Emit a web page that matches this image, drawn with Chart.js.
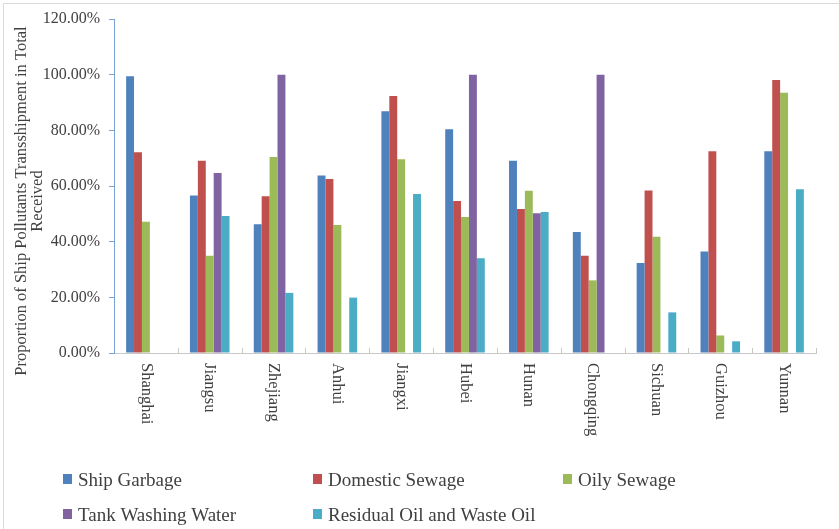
<!DOCTYPE html>
<html>
<head>
<meta charset="utf-8">
<script src="https://cdn.jsdelivr.net/npm/chart.js@4/dist/chart.umd.min.js"></script>
<style>
  html, body { margin: 0; padding: 0; background: #ffffff; }
  #wrap { width: 839px; height: 529px; position: relative; }
</style>
</head>
<body>
<div id="wrap"><canvas id="chart" width="839" height="529"></canvas></div>
<script>
// Provinces along the Yangtze
const provinces = ['Shanghai', 'Jiangsu', 'Zhejiang', 'Anhui', 'Jiangxi', 'Hubei', 'Hunan', 'Chongqing', 'Sichuan', 'Guizhou', 'Yunnan'];

// Share of each pollutant transshipped, in percent (null = not reported)
const shipGarbage     = [99.4, 56.6, 46.3, 63.8, 86.9, 80.4, 69.1, 43.5, 32.3, 36.5, 72.5];
const domesticSewage  = [72.1, 69.1, 56.3, 62.5, 92.3, 54.6, 51.7, 34.9, 58.4, 72.5, 98.1];
const oilySewage      = [47.2, 34.9, 70.4, 46.0, 69.6, 48.9, 58.3, 26.1, 41.8, 6.3, 93.5];
const tankWashing     = [null, 64.7, 100.0, null, null, 100.0, 50.2, 100.0, null, null, null];
const residualOil     = [null, 49.2, 21.6, 19.9, 57.1, 34.0, 50.7, null, 14.6, 4.2, 58.8];

const seriesNames = ['Ship Garbage', 'Domestic Sewage', 'Oily Sewage', 'Tank Washing Water', 'Residual Oil and Waste Oil'];
const yTicks = [0, 20, 40, 60, 80, 100, 120];

const colors = ['#4F81BD', '#C0504D', '#9BBB59', '#8064A2', '#4BACC6'];
const SERIF = "'Liberation Serif', 'Times New Roman', serif";
const yTitleLines = ['Proportion of Ship Pollutants Transshipment in Total', 'Received'];

// Frame lines, rotated category labels, inside x ticks, axis title and legend grid
const decorations = {
  id: 'decorations',
  beforeDraw(chart) {
    const ctx = chart.ctx;
    ctx.save();
    ctx.strokeStyle = '#d9d9d9';
    ctx.lineWidth = 1;
    ctx.beginPath();
    ctx.moveTo(3.5, 529); ctx.lineTo(3.5, 3.5); ctx.lineTo(839, 3.5);
    ctx.stroke();
    ctx.restore();
  },
  afterDraw(chart) {
    const ctx = chart.ctx;
    const x = chart.scales.x;
    const area = chart.chartArea;
    ctx.save();

    // inside tick marks between categories
    ctx.strokeStyle = '#c8c8c8';
    ctx.lineWidth = 1;
    const n = provinces.length;
    for (let i = 1; i <= n; i++) {
      let px;
      if (i === n) px = area.right;
      else px = (x.getPixelForTick(i - 1) + x.getPixelForTick(i)) / 2;
      px = Math.round(px) + 0.5;
      ctx.beginPath();
      ctx.moveTo(px, area.bottom);
      ctx.lineTo(px, area.bottom - 5);
      ctx.stroke();
    }

    // category labels, reading top to bottom
    ctx.fillStyle = '#404040';
    ctx.font = '16.5px ' + SERIF;
    ctx.textAlign = 'left';
    ctx.textBaseline = 'middle';
    provinces.forEach((p, i) => {
      const px = x.getPixelForTick(i);
      ctx.save();
      ctx.translate(px, area.bottom + 10);
      ctx.rotate(Math.PI / 2);
      ctx.fillText(p, 0, 0);
      ctx.restore();
    });

    // y axis title
    ctx.textAlign = 'center';
    ctx.textBaseline = 'alphabetic';
    const titleX = [26, 42];
    yTitleLines.forEach((line, i) => {
      ctx.save();
      ctx.translate(titleX[i], 201);
      ctx.rotate(-Math.PI / 2);
      ctx.fillText(line, 0, 0);
      ctx.restore();
    });

    // legend in a fixed grid
    ctx.font = '19px ' + SERIF;
    ctx.textAlign = 'left';
    const cols = [63, 313, 563];
    const rows = [486, 521];
    chart.data.datasets.forEach((ds, i) => {
      const cx = cols[i % 3];
      const by = rows[Math.floor(i / 3)];
      ctx.fillStyle = ds.backgroundColor;
      ctx.fillRect(cx, by - 12, 9, 10);
      ctx.fillStyle = '#404040';
      ctx.fillText(ds.label, cx + 15, by);
    });
    ctx.restore();
  }
};

const seriesData = [shipGarbage, domesticSewage, oilySewage, tankWashing, residualOil];

new Chart(document.getElementById('chart'), {
  type: 'bar',
  data: {
    labels: provinces,
    datasets: seriesData.map((d, i) => ({
      label: seriesNames[i],
      data: d,
      backgroundColor: colors[i],
      borderWidth: 0,
      categoryPercentage: 0.62,
      barPercentage: 1.0
    }))
  },
  options: {
    responsive: false,
    animation: false,
    events: [],
    layout: { padding: { top: 19, right: 23, bottom: 0, left: 0 } },
    plugins: {
      legend: { display: false },
      tooltip: { enabled: false }
    },
    scales: {
      x: {
        grid: { display: true, drawOnChartArea: false, drawTicks: false },
        border: { display: true, color: '#c8c8c8', width: 1 },
        ticks: { display: false },
        afterFit(scale) { scale.height = 176; }
      },
      y: {
        min: 0,
        max: 120,
        afterBuildTicks(scale) { scale.ticks = yTicks.map(v => ({ value: v })); },
        grid: { drawOnChartArea: false, drawTicks: true, tickLength: 5, color: '#7aa3d4' },
        border: { display: true, color: '#7aa3d4', width: 1 },
        ticks: {
          padding: 9,
          color: '#404040',
          font: { family: SERIF, size: 16 },
          callback: v => v.toFixed(2) + '%'
        },
        afterFit(scale) { scale.width = 114; }
      }
    }
  },
  plugins: [decorations]
});
</script>
</body>
</html>
